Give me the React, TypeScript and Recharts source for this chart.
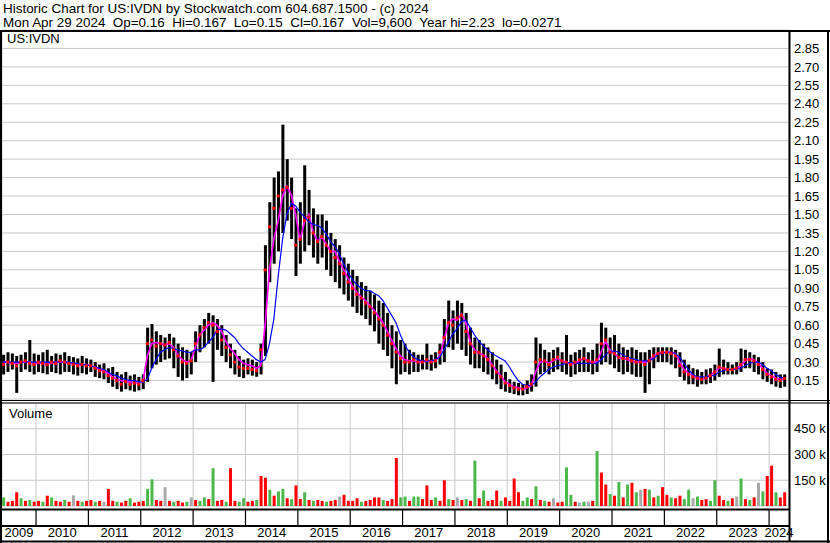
import React from 'react';
import { ComposedChart, Bar, Line, Scatter, XAxis, YAxis, CartesianGrid, Cell } from 'recharts';

// ---------- data (monthly, May 2009 .. Apr 2024) ----------
const START_YEAR = 2009;
const START_MONTH = 5;
const T0 = 2009.35;
const T1 = 2024.38;

const high: number[] = [
  0.36, 0.38, 0.37, 0.35, 0.36, 0.38, 0.48, 0.37,
  0.36, 0.38, 0.40, 0.35, 0.37, 0.36, 0.38, 0.35, 0.34, 0.33, 0.35, 0.33,
  0.32, 0.30, 0.28, 0.29, 0.25, 0.26, 0.22, 0.20, 0.22, 0.19, 0.20, 0.18,
  0.20, 0.58, 0.61, 0.55, 0.52, 0.50, 0.53, 0.50, 0.45, 0.42, 0.40, 0.38,
  0.55, 0.60, 0.65, 0.70, 0.68, 0.65, 0.60, 0.52, 0.45, 0.40, 0.35, 0.32,
  0.33, 0.32, 0.30, 0.45, 1.25, 1.60, 1.80, 1.85, 2.23, 1.95, 1.80, 1.55,
  1.60, 1.90, 1.70, 1.55, 1.50, 1.50, 1.45, 1.35, 1.30, 1.25, 1.15, 1.10,
  1.05, 1.00, 0.95, 0.92, 0.88, 0.85, 0.80, 0.78, 0.70, 0.60, 0.55, 0.48,
  0.45, 0.40, 0.38, 0.36, 0.36, 0.45, 0.36, 0.38, 0.45, 0.65, 0.80, 0.72,
  0.80, 0.78, 0.70, 0.58, 0.50, 0.48, 0.45, 0.42, 0.38, 0.32, 0.28, 0.22,
  0.16, 0.14, 0.13, 0.12, 0.15, 0.20, 0.50, 0.45, 0.40, 0.38, 0.40, 0.42,
  0.38, 0.52, 0.36, 0.38, 0.40, 0.42, 0.38, 0.40, 0.45, 0.62, 0.58, 0.50,
  0.52, 0.45, 0.42, 0.40, 0.42, 0.40, 0.38, 0.38, 0.40, 0.42, 0.42, 0.42,
  0.42, 0.42, 0.40, 0.38, 0.32, 0.28, 0.25, 0.24, 0.22, 0.24, 0.25, 0.28,
  0.41, 0.32, 0.30, 0.28, 0.30, 0.41, 0.40, 0.38, 0.36, 0.34, 0.30, 0.25,
  0.24, 0.22, 0.20, 0.20,
];

const low: number[] = [
  0.20, 0.22, 0.24, 0.05, 0.22, 0.24, 0.22, 0.20,
  0.22, 0.21, 0.20, 0.22, 0.21, 0.20, 0.22, 0.22, 0.20, 0.19, 0.21, 0.20,
  0.22, 0.18, 0.17, 0.16, 0.13, 0.10, 0.08, 0.06, 0.08, 0.07, 0.06, 0.07,
  0.08, 0.14, 0.25, 0.28, 0.30, 0.32, 0.33, 0.25, 0.18, 0.15, 0.17, 0.20,
  0.30, 0.38, 0.42, 0.45, 0.14, 0.40, 0.35, 0.30, 0.25, 0.20, 0.18, 0.17,
  0.20, 0.19, 0.18, 0.20, 0.35, 0.95, 1.10, 1.20, 1.35, 1.45, 1.30, 1.00,
  1.10, 1.20, 1.25, 1.15, 1.10, 1.15, 1.05, 1.00, 0.95, 0.90, 0.85, 0.80,
  0.75, 0.70, 0.68, 0.65, 0.60, 0.55, 0.45, 0.40, 0.35, 0.25, 0.12, 0.20,
  0.22, 0.20, 0.22, 0.22, 0.24, 0.24, 0.23, 0.25, 0.28, 0.30, 0.42, 0.40,
  0.45, 0.40, 0.35, 0.28, 0.25, 0.25, 0.22, 0.20, 0.16, 0.12, 0.08, 0.06,
  0.05, 0.04, 0.03, 0.03, 0.04, 0.06, 0.10, 0.20, 0.22, 0.20, 0.22, 0.24,
  0.22, 0.20, 0.18, 0.20, 0.22, 0.22, 0.22, 0.20, 0.22, 0.28, 0.30, 0.28,
  0.25, 0.22, 0.20, 0.22, 0.20, 0.18, 0.18, 0.05, 0.12, 0.25, 0.30, 0.30,
  0.30, 0.28, 0.25, 0.18, 0.15, 0.12, 0.12, 0.10, 0.12, 0.12, 0.13, 0.15,
  0.18, 0.20, 0.20, 0.20, 0.20, 0.22, 0.25, 0.25, 0.22, 0.20, 0.16, 0.14,
  0.12, 0.10, 0.09, 0.10,
];

const close: number[] = [
  0.28, 0.30, 0.29, 0.27, 0.30, 0.31, 0.29, 0.28,
  0.30, 0.29, 0.28, 0.30, 0.29, 0.31, 0.30, 0.29, 0.28, 0.27, 0.28, 0.27,
  0.27, 0.25, 0.23, 0.22, 0.19, 0.17, 0.15, 0.12, 0.14, 0.12, 0.13, 0.12,
  0.15, 0.45, 0.48, 0.43, 0.45, 0.44, 0.46, 0.40, 0.35, 0.30, 0.29, 0.31,
  0.45, 0.52, 0.58, 0.62, 0.60, 0.55, 0.48, 0.42, 0.36, 0.30, 0.26, 0.25,
  0.25, 0.24, 0.23, 0.40, 1.05, 1.40, 1.55, 1.65, 1.70, 1.72, 1.55, 1.25,
  1.30, 1.45, 1.48, 1.35, 1.28, 1.32, 1.25, 1.20, 1.15, 1.10, 1.02, 0.95,
  0.90, 0.85, 0.82, 0.78, 0.75, 0.70, 0.65, 0.60, 0.52, 0.45, 0.38, 0.33,
  0.30, 0.30, 0.32, 0.30, 0.30, 0.32, 0.30, 0.31, 0.38, 0.50, 0.62, 0.60,
  0.66, 0.68, 0.55, 0.45, 0.38, 0.38, 0.35, 0.32, 0.27, 0.22, 0.18, 0.13,
  0.11, 0.09, 0.08, 0.08, 0.10, 0.12, 0.30, 0.32, 0.31, 0.28, 0.32, 0.34,
  0.31, 0.30, 0.28, 0.30, 0.32, 0.33, 0.31, 0.30, 0.32, 0.45, 0.48, 0.38,
  0.37, 0.34, 0.33, 0.33, 0.31, 0.30, 0.30, 0.28, 0.31, 0.35, 0.37, 0.38,
  0.38, 0.37, 0.35, 0.27, 0.22, 0.20, 0.18, 0.17, 0.16, 0.17, 0.19, 0.22,
  0.26, 0.25, 0.24, 0.24, 0.25, 0.28, 0.32, 0.32, 0.31, 0.28, 0.24, 0.20,
  0.18, 0.16, 0.15, 0.167,
];

const maFast: number[] = [
  0.30, 0.30, 0.29, 0.29, 0.30, 0.30, 0.30, 0.29,
  0.29, 0.29, 0.29, 0.29, 0.30, 0.30, 0.30, 0.29, 0.29, 0.28, 0.28, 0.28,
  0.27, 0.26, 0.24, 0.23, 0.21, 0.18, 0.16, 0.15, 0.14, 0.14, 0.13, 0.13,
  0.14, 0.35, 0.45, 0.46, 0.45, 0.44, 0.45, 0.42, 0.36, 0.32, 0.30, 0.31,
  0.42, 0.52, 0.56, 0.60, 0.62, 0.60, 0.55, 0.47, 0.41, 0.37, 0.32, 0.29,
  0.28, 0.27, 0.25, 0.27, 0.60, 1.05, 1.30, 1.45, 1.65, 1.73, 1.66, 1.50,
  1.29, 1.44, 1.50, 1.36, 1.28, 1.32, 1.26, 1.20, 1.20, 1.12, 1.05, 0.98,
  0.92, 0.87, 0.83, 0.80, 0.76, 0.72, 0.67, 0.62, 0.55, 0.48, 0.41, 0.35,
  0.32, 0.31, 0.31, 0.30, 0.30, 0.31, 0.31, 0.31, 0.35, 0.48, 0.62, 0.65,
  0.64, 0.69, 0.62, 0.46, 0.40, 0.37, 0.36, 0.33, 0.28, 0.23, 0.19, 0.14,
  0.12, 0.10, 0.09, 0.08, 0.09, 0.11, 0.22, 0.30, 0.31, 0.29, 0.31, 0.33,
  0.31, 0.30, 0.28, 0.29, 0.31, 0.33, 0.31, 0.30, 0.30, 0.38, 0.47, 0.40,
  0.37, 0.34, 0.33, 0.32, 0.31, 0.30, 0.30, 0.30, 0.31, 0.35, 0.37, 0.38,
  0.38, 0.38, 0.37, 0.30, 0.24, 0.21, 0.19, 0.17, 0.16, 0.17, 0.19, 0.22,
  0.25, 0.25, 0.24, 0.24, 0.25, 0.27, 0.31, 0.33, 0.32, 0.29, 0.25, 0.21,
  0.19, 0.17, 0.16, 0.16,
];

const maSlow: number[] = [
  0.30, 0.30, 0.30, 0.30, 0.30, 0.30, 0.30, 0.30,
  0.30, 0.30, 0.30, 0.30, 0.30, 0.30, 0.30, 0.30, 0.29, 0.29, 0.28, 0.28,
  0.27, 0.26, 0.25, 0.24, 0.22, 0.20, 0.19, 0.17, 0.16, 0.15, 0.15, 0.14,
  0.14, 0.16, 0.25, 0.32, 0.38, 0.40, 0.42, 0.41, 0.40, 0.39, 0.38, 0.38,
  0.40, 0.40, 0.42, 0.46, 0.50, 0.56, 0.57, 0.56, 0.53, 0.50, 0.45, 0.41,
  0.38, 0.35, 0.32, 0.30, 0.32, 0.45, 0.65, 1.00, 1.30, 1.50, 1.59, 1.57,
  1.52, 1.48, 1.44, 1.42, 1.41, 1.39, 1.34, 1.28, 1.24, 1.18, 1.10, 1.03,
  0.97, 0.93, 0.90, 0.88, 0.88, 0.86, 0.84, 0.80, 0.74, 0.68, 0.62, 0.52,
  0.44, 0.38, 0.34, 0.32, 0.31, 0.31, 0.31, 0.32, 0.34, 0.40, 0.46, 0.53,
  0.57, 0.63, 0.64, 0.58, 0.52, 0.47, 0.43, 0.40, 0.37, 0.35, 0.33, 0.31,
  0.26, 0.20, 0.15, 0.12, 0.11, 0.11, 0.14, 0.18, 0.21, 0.24, 0.26, 0.27,
  0.28, 0.29, 0.30, 0.29, 0.29, 0.29, 0.29, 0.29, 0.29, 0.32, 0.36, 0.39,
  0.39, 0.38, 0.36, 0.34, 0.33, 0.32, 0.31, 0.31, 0.31, 0.33, 0.36, 0.37,
  0.38, 0.38, 0.37, 0.34, 0.29, 0.24, 0.20, 0.18, 0.18, 0.18, 0.19, 0.19,
  0.22, 0.23, 0.24, 0.24, 0.24, 0.25, 0.27, 0.29, 0.30, 0.30, 0.28, 0.25,
  0.23, 0.20, 0.18, 0.17,
];

// volume in thousands of shares
const volumeK: number[] = [
  50, 25, 30, 80, 45, 30, 35, 25,
  30, 25, 60, 50, 30, 25, 35, 25, 62, 30, 25, 30,
  35, 25, 30, 25, 100, 30, 25, 20, 30, 45, 20, 25,
  30, 100, 155, 35, 30, 110, 30, 25, 30, 20, 25, 50,
  35, 30, 50, 40, 220, 30, 35, 25, 220, 30, 25, 45,
  25, 30, 35, 175, 165, 95, 60, 85, 100, 45, 40, 120,
  40, 80, 35, 30, 35, 30, 25, 30, 35, 55, 65, 30,
  30, 45, 25, 30, 35, 50, 50, 35, 30, 40, 280, 50,
  55, 30, 55, 55, 40, 120, 35, 50, 30, 150, 40, 35,
  50, 35, 40, 30, 265, 45, 90, 30, 35, 90, 30, 50,
  30, 160, 80, 30, 50, 40, 115, 35, 30, 25, 45, 20,
  25, 225, 65, 25, 20, 25, 25, 30, 320, 195, 125, 70,
  60, 140, 50, 125, 135, 80, 95, 100, 95, 50, 60, 110,
  65, 50, 45, 60, 40, 95, 45, 55, 35, 40, 30, 150,
  60, 35, 30, 45, 55, 160, 40, 35, 50, 135, 85, 175,
  235, 80, 50, 80,
];

// volume bar direction: g = up, r = down, n = unchanged
const volumeDir: string[] = [
  'grrrgrgr',
  'rgrgrrgrnrgr',
  'rgrnrrgrrgrr',
  'rggrrnrgrrgn',
  'rggrgrrgrrgg',
  'rrgrrgrggrgr',
  'rgrgrrgrrnrr',
  'rrgrrrrgrrrg',
  'grggrrrgrrgr',
  'nrgrgrgrrrgr',
  'rrrggrgrgrnr',
  'rggrngnrgrrg',
  'rgrgrgnrgrgr',
  'rgrrggngrrgg',
  'rrgrngrgrngr',
  'rgrr',
];

const years: number[] = [2009, 2010, 2011, 2012, 2013, 2014, 2015, 2016, 2017, 2018, 2019, 2020, 2021, 2022, 2023, 2024];
const priceTicks: number[] = [0.15, 0.3, 0.45, 0.6, 0.75, 0.9, 1.05, 1.2, 1.35, 1.5, 1.65, 1.8, 1.95, 2.1, 2.25, 2.4, 2.55, 2.7, 2.85];
const volumeTicks: number[] = [150000, 300000, 450000];

const headerLine1 = 'Historic Chart for US:IVDN by Stockwatch.com 604.687.1500 - (c) 2024';
const headerLine2 = 'Mon Apr 29 2024  Op=0.16  Hi=0.167  Lo=0.15  Cl=0.167  Vol=9,600  Year hi=2.23  lo=0.0271';
const symbol = 'US:IVDN';

// ---------- derived tables ----------
const dirs = volumeDir.join('');
const data = high.map((h, i) => ({
  t: START_YEAR + (START_MONTH - 1 + i + 0.5) / 12,
  range: [low[i], h],
  close: close[i],
  fast: maFast[i],
  slow: maSlow[i],
  vol: volumeK[i] * 1000,
  dir: dirs[i],
}));
const yearBounds = years.slice(1);
const yearLabelPos = years.map((y) => (Math.max(y, T0) + Math.min(y + 1, T1)) / 2);

const FONT = '"Liberation Sans", Arial, sans-serif';
const GRID = '#c8c8c8';
const dirColor: Record<string, string> = { r: '#ff0000', g: '#4cb84c', n: '#a8a8a8' };

const CloseMark = (p: any) => (
  <rect x={p.cx - 1.5} y={p.cy - 1.5} width={3} height={3} fill="#ff0000" />
);

const YearLine = (p: any) => (
  <line x1={p.x} x2={p.x} y1={p.y + 4} y2={p.y + 20} stroke="#000" strokeWidth={1.2} />
);

const tickStyle = { fontSize: 13, fill: '#000', fontFamily: FONT };

export default function App() {
  return (
    <div style={{ position: 'absolute', left: 0, top: 0, width: 830, height: 543, background: '#fff', overflow: 'hidden' }}>
      <div
        style={{
          position: 'absolute',
          left: 3,
          top: 1.5,
          fontFamily: FONT,
          fontSize: 13.45,
          lineHeight: '14px',
          whiteSpace: 'pre',
          color: '#000',
        }}
      >
        <div>{headerLine1}</div>
        <div>{headerLine2}</div>
      </div>
      <div style={{ position: 'absolute', left: 0, top: 0 }}>
        <ComposedChart width={830} height={400} data={data} margin={{ top: 30, right: 0, bottom: 1, left: 2 }}>
          <CartesianGrid stroke={GRID} strokeWidth={1} />
          <XAxis
            dataKey="t"
            type="number"
            domain={[T0, T1]}
            ticks={yearBounds}
            allowDataOverflow
            height={0}
            tick={false}
            axisLine={false}
            tickLine={false}
          />
          <YAxis
            orientation="right"
            domain={[0, 3]}
            ticks={priceTicks}
            interval={0}
            allowDataOverflow
            width={41}
            axisLine={false}
            tickLine={false}
            tickSize={0}
            tickMargin={5}
            tick={tickStyle}
            tickFormatter={(v: number) => v.toFixed(2)}
          />
          <Bar dataKey="range" fill="#000" barSize={3} isAnimationActive={false} />
          <Scatter dataKey="close" shape={CloseMark} isAnimationActive={false} />
          <Line dataKey="fast" stroke="#ff00ff" strokeWidth={1.7} dot={false} type="linear" isAnimationActive={false} />
          <Line dataKey="slow" stroke="#0000ff" strokeWidth={1.2} dot={false} type="linear" isAnimationActive={false} />
        </ComposedChart>
      </div>
      <div style={{ position: 'absolute', left: 0, top: 400 }}>
        <ComposedChart width={830} height={143} data={data} margin={{ top: 3, right: 0, bottom: 1, left: 2 }}>
          <CartesianGrid stroke={GRID} strokeWidth={1} xAxisId="b" />
          <XAxis
            xAxisId="b"
            dataKey="t"
            type="number"
            domain={[T0, T1]}
            ticks={yearBounds}
            allowDataOverflow
            height={20}
            axisLine={false}
            tickLine={false}
            tickSize={0}
            tickMargin={0}
            tick={YearLine}
          />
          <XAxis
            xAxisId="lbl"
            dataKey="t"
            type="number"
            domain={[T0, T1]}
            ticks={yearLabelPos}
            interval={0}
            allowDataOverflow
            height={16}
            axisLine={false}
            tickLine={false}
            tickSize={0}
            tickMargin={2}
            tick={tickStyle}
            tickFormatter={(v: number) => String(Math.floor(v))}
          />
          <YAxis
            orientation="right"
            domain={[0, 600000]}
            ticks={volumeTicks}
            interval={0}
            allowDataOverflow
            width={41}
            axisLine={false}
            tickLine={false}
            tickSize={0}
            tickMargin={5}
            tick={tickStyle}
            tickFormatter={(v: number) => `${v / 1000} k`}
          />
          <Bar dataKey="vol" xAxisId="b" barSize={3} isAnimationActive={false}>
            {data.map((d, i) => (
              <Cell key={i} fill={dirColor[d.dir]} />
            ))}
          </Bar>
        </ComposedChart>
      </div>
      <svg
        width={830}
        height={543}
        style={{ position: 'absolute', left: 0, top: 0, pointerEvents: 'none' }}
      >
        <text x={7} y={43} fontFamily={FONT} fontSize={13} fill="#000">{symbol}</text>
        <text x={9} y={418} fontFamily={FONT} fontSize={13} fill="#000">Volume</text>
        {/* frame */}
        <line x1={0} x2={830} y1={31} y2={31} stroke="#000" strokeWidth={2} />
        <line x1={1} x2={1} y1={30} y2={543} stroke="#000" strokeWidth={2} />
        <line x1={789.5} x2={789.5} y1={30} y2={542} stroke="#000" strokeWidth={2} />
        <line x1={828} x2={828} y1={30} y2={543} stroke="#000" strokeWidth={2} />
        <line x1={0} x2={830} y1={400.5} y2={400.5} stroke="#000" strokeWidth={1} />
        <line x1={0} x2={830} y1={403} y2={403} stroke="#000" strokeWidth={1} />
        <line x1={0} x2={790} y1={509.5} y2={509.5} stroke="#000" strokeWidth={2} />
        <line x1={0} x2={790} y1={526} y2={526} stroke="#000" strokeWidth={2} />
        <line x1={0} x2={830} y1={541.5} y2={541.5} stroke="#000" strokeWidth={2} />
      </svg>
    </div>
  );
}
